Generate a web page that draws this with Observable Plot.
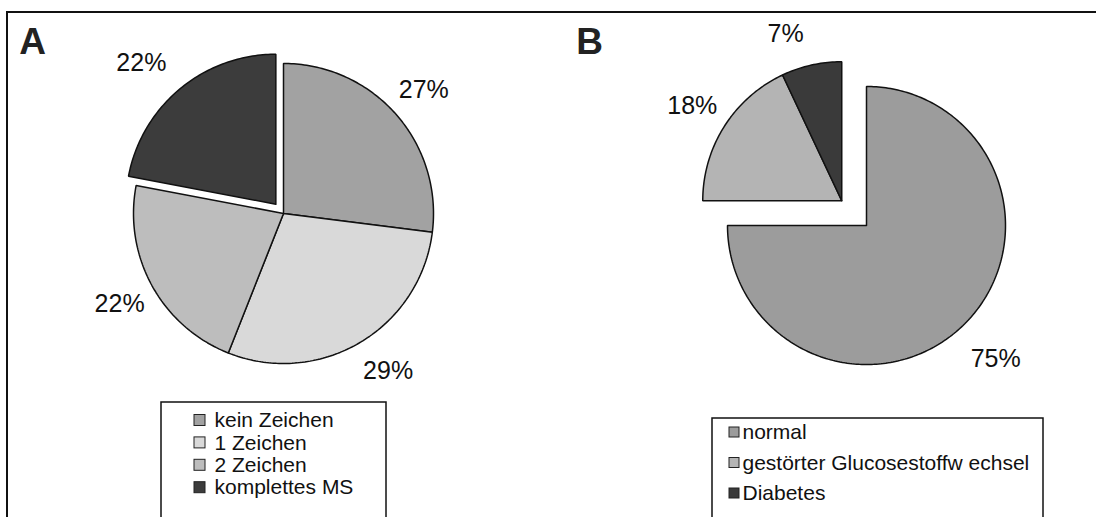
<!DOCTYPE html>
<html><head><meta charset="utf-8">
<script src="https://cdn.jsdelivr.net/npm/d3@7"></script>
<script src="https://cdn.jsdelivr.net/npm/@observablehq/plot@0.6"></script>
<style>
html,body{margin:0;padding:0;background:#fff;overflow:hidden;}
svg{display:block;font-family:"Liberation Sans",Arial,sans-serif;}
</style>
</head><body><div id="chart"></div>
<script>
// ---- data ----
const categoriesA = ["kein Zeichen", "1 Zeichen", "2 Zeichen", "komplettes MS"];
const valuesA = [27, 29, 22, 22];
const categoriesB = ["normal", "gestörter Glucosestoffw echsel", "Diabetes"];
const valuesB = [75, 18, 7];
const panelLabels = ["A", "B"];

// ---- styles / layout ----
const fillsA = ["#a2a2a2", "#d9d9d9", "#bdbdbd", "#3c3c3c"];
const fillsB = ["#9c9c9c", "#b4b4b4", "#3a3a3a"];
const W = 1096, H = 517;
const cfgA = {cx: 283, cy: 213, r: 150, lr: 187, fills: fillsA,
  explode: [[0, null], [0, null], [0, null], [12, null]],
  nudge: [[0, 0], [2, -3], [0, 0], [8, -4]]};
const cfgB = {cx: 866, cy: 225, r: 139, lr: 180, fills: fillsB,
  explode: [[0, null], [35, 315], [35, 315]],
  nudge: [[6, 1], [-3, 0], [-4, -6]]};

function pie(cats, vals, cfg) {
  const total = d3.sum(vals);
  let acc = 0;
  const polys = [], labels = [];
  cats.forEach((c, i) => {
    const a0 = acc / total * 2 * Math.PI; acc += vals[i];
    const a1 = acc / total * 2 * Math.PI;
    const mid = (a0 + a1) / 2;
    const [dist, ang] = cfg.explode[i];
    const dir = ang == null ? mid : ang * Math.PI / 180;
    const cx = cfg.cx + dist * Math.sin(dir), cy = cfg.cy - dist * Math.cos(dir);
    const n = Math.max(2, Math.ceil((a1 - a0) / (Math.PI / 180)));
    const pts = [[cx, cy]];
    for (let k = 0; k <= n; k++) {
      const a = a0 + (a1 - a0) * k / n;
      pts.push([cx + cfg.r * Math.sin(a), cy - cfg.r * Math.cos(a)]);
    }
    pts.push([cx, cy]);
    pts.forEach(([x, y]) => polys.push({key: c, x, y, fill: cfg.fills[i]}));
    const lr = cfg.lr + cfg.nudge[i][0], la = mid + cfg.nudge[i][1] * Math.PI / 180;
    labels.push({text: vals[i] + "%", x: cx + lr * Math.sin(la), y: cy - lr * Math.cos(la)});
  });
  return {polys, labels};
}

const pA = pie(categoriesA, valuesA, cfgA);
const pB = pie(categoriesB, valuesB, cfgB);

const legA = categoriesA.map((c, i) => ({text: c, fill: fillsA[i], x: 194, tx: 214, y: 420 + i * 22.4}));
const legB = categoriesB.map((c, i) => ({text: c, fill: fillsB[i], x: 729, tx: 742, y: 432 + i * 30.5}));
const boxes = [{x1: 161, x2: 386, y1: 402, y2: H + 2}, {x1: 712, x2: 1043, y1: 418, y2: H + 2}];
const panels = panelLabels.map((t, i) => ({text: t, x: [32, 589][i], y: 42}));

const chart = Plot.plot({
  width: W, height: H,
  margin: 0,
  x: {domain: [0, W], range: [0, W], axis: null},
  y: {domain: [0, H], range: [0, H], axis: null},
  color: {type: "identity"},
  style: {fontFamily: "Liberation Sans, Arial, sans-serif", background: "white"},
  marks: [
    // frame (left and top only)
    Plot.ruleX([6.5], {y1: 11, y2: H, stroke: "#111", strokeWidth: 2}),
    Plot.ruleY([11.5], {x1: 6, x2: W + 4, stroke: "#111", strokeWidth: 2, strokeLinecap: "butt"}),
    // pies
    Plot.line(pA.polys, {x: "x", y: "y", z: "key", fill: "fill", stroke: "#111", strokeWidth: 1.5, strokeLinejoin: "miter", curve: "linear"}),
    Plot.line(pB.polys, {x: "x", y: "y", z: "key", fill: "fill", stroke: "#111", strokeWidth: 1.5, strokeLinejoin: "miter", curve: "linear"}),
    Plot.text(pA.labels, {x: "x", y: "y", text: "text", fontSize: 25, fill: "#111"}),
    Plot.text(pB.labels, {x: "x", y: "y", text: "text", fontSize: 25, fill: "#111"}),
    // panel letters
    Plot.text(panels, {x: "x", y: "y", text: "text", fontSize: 37, fontWeight: "bold", fill: "#222"}),
    // legend boxes
    Plot.rect(boxes, {x1: "x1", x2: "x2", y1: "y1", y2: "y2", fill: "none", stroke: "#111", strokeWidth: 1.5}),
    // legend swatches
    Plot.rect(legA, {x1: "x", x2: d => d.x + 11, y1: d => d.y - 5.5, y2: d => d.y + 5.5, fill: "fill", stroke: "#222", strokeWidth: 1}),
    Plot.rect(legB, {x1: "x", x2: d => d.x + 10, y1: d => d.y - 5, y2: d => d.y + 5, fill: "fill", stroke: "#222", strokeWidth: 1}),
    Plot.text(legA, {x: "tx", y: "y", text: "text", textAnchor: "start", fontSize: 21, fill: "#111"}),
    Plot.text(legB, {x: "tx", y: "y", text: "text", textAnchor: "start", fontSize: 21, fill: "#111"})
  ]
});
document.getElementById("chart").appendChild(chart);
</script>
</body></html>
